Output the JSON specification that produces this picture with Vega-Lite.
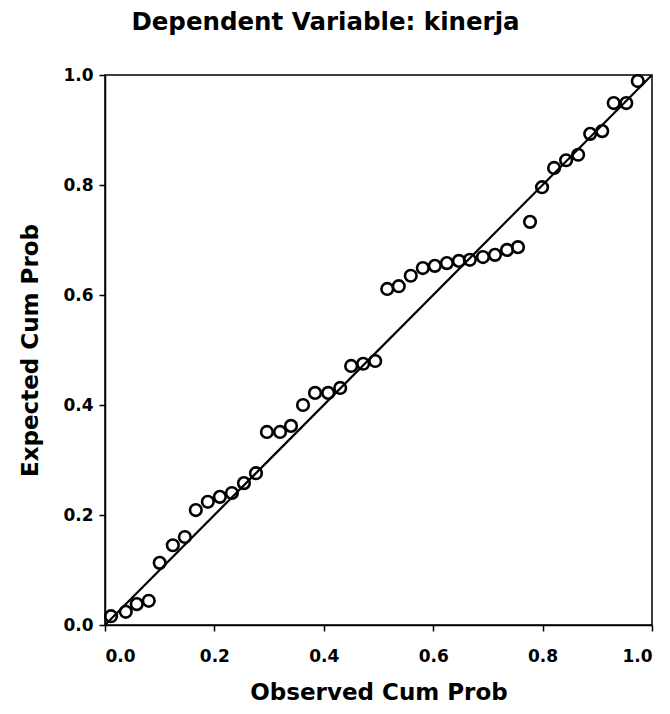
{
  "$schema": "https://vega.github.io/schema/vega-lite/v6.json",
  "autosize": "none",
  "width": 547,
  "height": 550,
  "padding": {"left": 105, "top": 75, "right": 18, "bottom": 89},
  "background": "white",
  "title": {
    "text": "Dependent Variable: kinerja",
    "font": "DejaVu Sans",
    "fontSize": 24.5,
    "fontWeight": "bold",
    "color": "black",
    "anchor": "middle",
    "dx": -53,
    "offset": 31
  },
  "config": {
    "view": {"stroke": "black", "strokeWidth": 1.5},
    "axis": {
      "grid": false,
      "domainColor": "black",
      "domainWidth": 1.5,
      "tickColor": "black",
      "tickWidth": 1.5,
      "tickSize": 6,
      "labelFont": "DejaVu Sans",
      "labelFontSize": 17,
      "labelFontWeight": "bold",
      "labelColor": "black",
      "titleFont": "DejaVu Sans",
      "titleFontSize": 23,
      "titleFontWeight": "bold",
      "titleColor": "black"
    }
  },
  "data": {
    "values": [
      {"obs": 0.011, "exp": 0.016},
      {"obs": 0.038, "exp": 0.024},
      {"obs": 0.058, "exp": 0.038},
      {"obs": 0.080, "exp": 0.044},
      {"obs": 0.100, "exp": 0.113},
      {"obs": 0.124, "exp": 0.145},
      {"obs": 0.146, "exp": 0.160},
      {"obs": 0.166, "exp": 0.209},
      {"obs": 0.188, "exp": 0.224},
      {"obs": 0.210, "exp": 0.233},
      {"obs": 0.232, "exp": 0.240},
      {"obs": 0.254, "exp": 0.258},
      {"obs": 0.276, "exp": 0.276},
      {"obs": 0.296, "exp": 0.351},
      {"obs": 0.320, "exp": 0.351},
      {"obs": 0.340, "exp": 0.362},
      {"obs": 0.362, "exp": 0.400},
      {"obs": 0.384, "exp": 0.422},
      {"obs": 0.408, "exp": 0.422},
      {"obs": 0.430, "exp": 0.431},
      {"obs": 0.450, "exp": 0.471},
      {"obs": 0.472, "exp": 0.475},
      {"obs": 0.494, "exp": 0.480},
      {"obs": 0.516, "exp": 0.611},
      {"obs": 0.537, "exp": 0.616},
      {"obs": 0.559, "exp": 0.635},
      {"obs": 0.581, "exp": 0.649},
      {"obs": 0.603, "exp": 0.653},
      {"obs": 0.625, "exp": 0.658},
      {"obs": 0.647, "exp": 0.662},
      {"obs": 0.667, "exp": 0.664},
      {"obs": 0.691, "exp": 0.669},
      {"obs": 0.713, "exp": 0.673},
      {"obs": 0.735, "exp": 0.682},
      {"obs": 0.755, "exp": 0.687},
      {"obs": 0.777, "exp": 0.733},
      {"obs": 0.799, "exp": 0.796},
      {"obs": 0.821, "exp": 0.831},
      {"obs": 0.843, "exp": 0.845},
      {"obs": 0.865, "exp": 0.855},
      {"obs": 0.887, "exp": 0.893},
      {"obs": 0.909, "exp": 0.898},
      {"obs": 0.930, "exp": 0.949},
      {"obs": 0.953, "exp": 0.949},
      {"obs": 0.974, "exp": 0.989}
    ]
  },
  "layer": [
    {
      "data": {"values": [{"a": 0, "b": 0}, {"a": 1, "b": 1}]},
      "mark": {"type": "line", "color": "black", "strokeWidth": 2.2, "clip": true},
      "encoding": {
        "x": {"field": "a", "type": "quantitative", "scale": {"domain": [0, 1]}},
        "y": {"field": "b", "type": "quantitative", "scale": {"domain": [0, 1]}}
      }
    },
    {
      "mark": {"type": "point", "shape": "circle", "filled": false, "color": "black", "strokeWidth": 2.6, "size": 135, "opacity": 1},
      "encoding": {
        "x": {
          "field": "obs", "type": "quantitative",
          "title": "Observed Cum Prob",
          "scale": {"domain": [0, 1], "nice": false, "zero": false},
          "axis": {"values": [0, 0.2, 0.4, 0.6, 0.8, 1.0], "format": ".1f", "labelPadding": 17, "titlePadding": 17}
        },
        "y": {
          "field": "exp", "type": "quantitative",
          "title": "Expected Cum Prob",
          "scale": {"domain": [0, 1], "nice": false, "zero": false},
          "axis": {"values": [0, 0.2, 0.4, 0.6, 0.8, 1.0], "format": ".1f", "labelPadding": 6, "titlePadding": 20}
        }
      }
    }
  ]
}
